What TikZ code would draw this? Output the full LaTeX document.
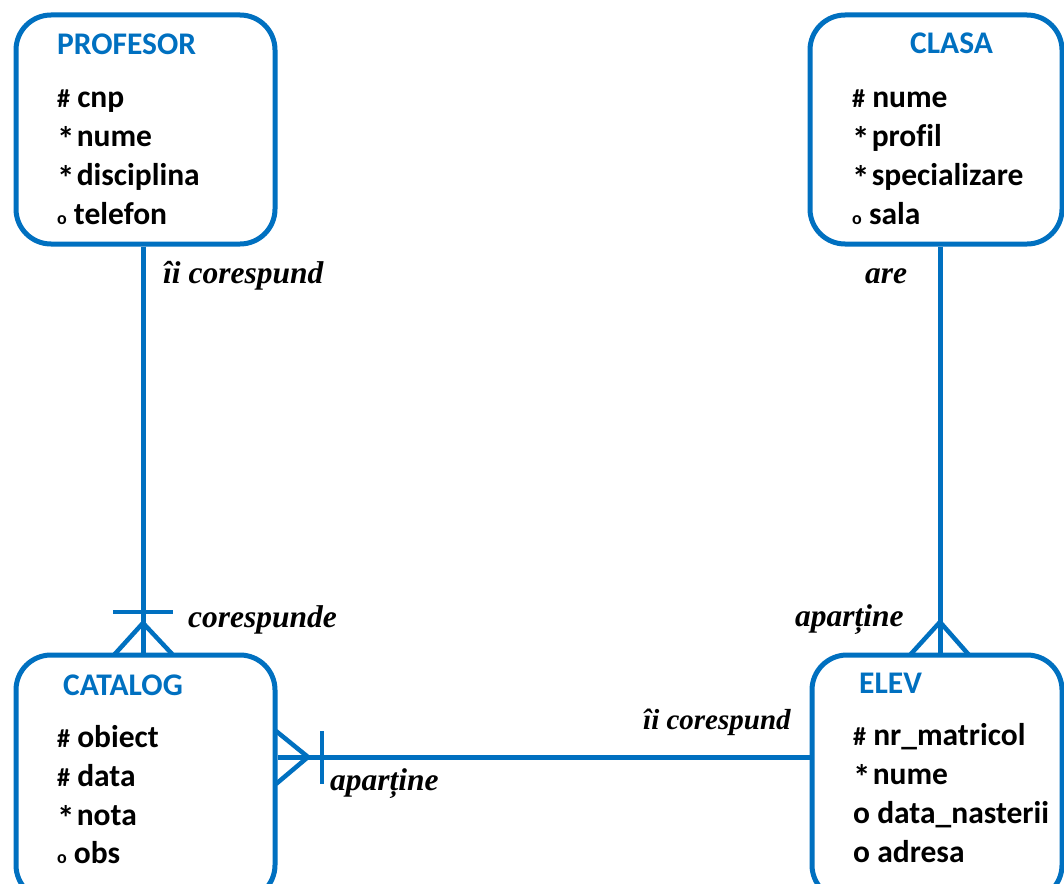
\documentclass[tikz,border=0pt]{standalone}
\usepackage{fontspec}
\setmainfont{Carlito}[Ligatures=NoCommon]
\newfontfamily\lblfont{Liberation Serif}
\definecolor{eblue}{HTML}{0070C0}
\newcommand{\pfx}[1]{{\fontsize{26}{26}\selectfont #1}}
\newcommand{\myast}{{\fontsize{35}{35}\selectfont\raisebox{-5pt}{*}}\kern-5pt}
\newcommand{\smo}{{\fontsize{18}{18}\selectfont o}}
\begin{document}
\begin{tikzpicture}[x=1pt,y=-1pt,
  entity/.style={draw=eblue, line width=5pt, rounded corners=35pt, inner sep=0pt},
  ttl/.style={anchor=base west, inner sep=0pt, text=eblue, font=\fontsize{31.5}{31.5}\selectfont\bfseries},
  attr/.style={anchor=base west, inner sep=0pt, font=\fontsize{31.5}{31.5}\selectfont\bfseries},
  lbl/.style={anchor=base west, inner sep=0pt, font=\fontsize{31.5}{31.5}\selectfont\lblfont\bfseries\itshape},
  rel/.style={draw=eblue, line width=5pt},
  foot/.style={draw=eblue, line width=4.5pt}]
\useasboundingbox (0,0) rectangle (1064,883);
\clip (0,0) rectangle (1064,883);
\fill[white] (0,0) rectangle (1064,883);
% boxes
\node[entity, minimum width=259pt, minimum height=229pt] (prof) at (145.5,129.5) {};
\node[entity, minimum width=252pt, minimum height=229pt] (clasa) at (936,129.5) {};
\node[entity, minimum width=259pt, minimum height=245pt] (cat) at (145.5,777.5) {};
\node[entity, minimum width=250pt, minimum height=245pt] (elev) at (937,777.5) {};
% titles
\node[ttl] (tprof) at (57,55) {PROFESOR};
\node[ttl] (tclasa) at (910,54) {CLASA};
\node[ttl] (tcat) at (63,695) {CATALOG};
\node[ttl] (telev) at (859,693) {ELEV};
% attributes
\node[attr] (p1) at (57,107) {\pfx{\#} cnp};
\node[attr] (p2) at (57,146) {\myast{} nume};
\node[attr] (p3) at (57,185) {\myast{} disciplina};
\node[attr] (p4) at (57,224) {\smo{} telefon};
\node[attr] (c1) at (852,107) {\pfx{\#} nume};
\node[attr] (c2) at (852,146) {\myast{} profil};
\node[attr] (c3) at (852,185) {\myast{} specializare};
\node[attr] (c4) at (852,224) {\smo{} sala};
\node[attr] (k1) at (57,747) {\pfx{\#} obiect};
\node[attr] (k2) at (57,786) {\pfx{\#} data};
\node[attr] (k3) at (57,825) {\myast{} nota};
\node[attr] (k4) at (57,863) {\smo{} obs};
\node[attr] (e1) at (853,745) {\pfx{\#} nr\_matricol};
\node[attr] (e2) at (853,784) {\myast{} nume};
\node[attr] (e3) at (853,823) {o data\_nasterii};
\node[attr] (e4) at (853,862) {o adresa};
% connectors
\coordinate (hy) at (0,757);
\draw[rel] ([xshift=-2.5pt]prof.south) -- ([xshift=-2.5pt]cat.north);
\draw[rel] ([xshift=4pt]clasa.south) -- ([xshift=3pt]elev.north);
\draw[rel] (cat.east |- hy) -- (elev.west |- hy);
% crow's feet PROFESOR-CATALOG
\coordinate (j1) at (143,623);
\draw[foot] (113,612) -- (173,612);
\draw[foot] (114,655) -- (j1) -- (173,655);
% CLASA-ELEV
\coordinate (j2) at (940,622);
\draw[foot] (910,655) -- (j2) -- (969,655);
% CATALOG-ELEV
\coordinate (j3) at (308,757);
\draw[foot] (276,731) -- (j3) -- (276,784);
\draw[foot] (322,731) -- (322,784);
% labels
\node[lbl] (l1) at (163,283) {îi corespund};
\node[lbl] (l2) at (865,283) {are};
\node[lbl] (l3) at (188,627) {corespunde};
\node[lbl] (l4) at (795,626) {aparține};
\node[lbl, font=\fontsize{29}{29}\selectfont\lblfont\bfseries\itshape] (l5) at (643,729) {îi corespund};
\node[lbl] (l6) at (330,790) {aparține};
\end{tikzpicture}
\end{document}
